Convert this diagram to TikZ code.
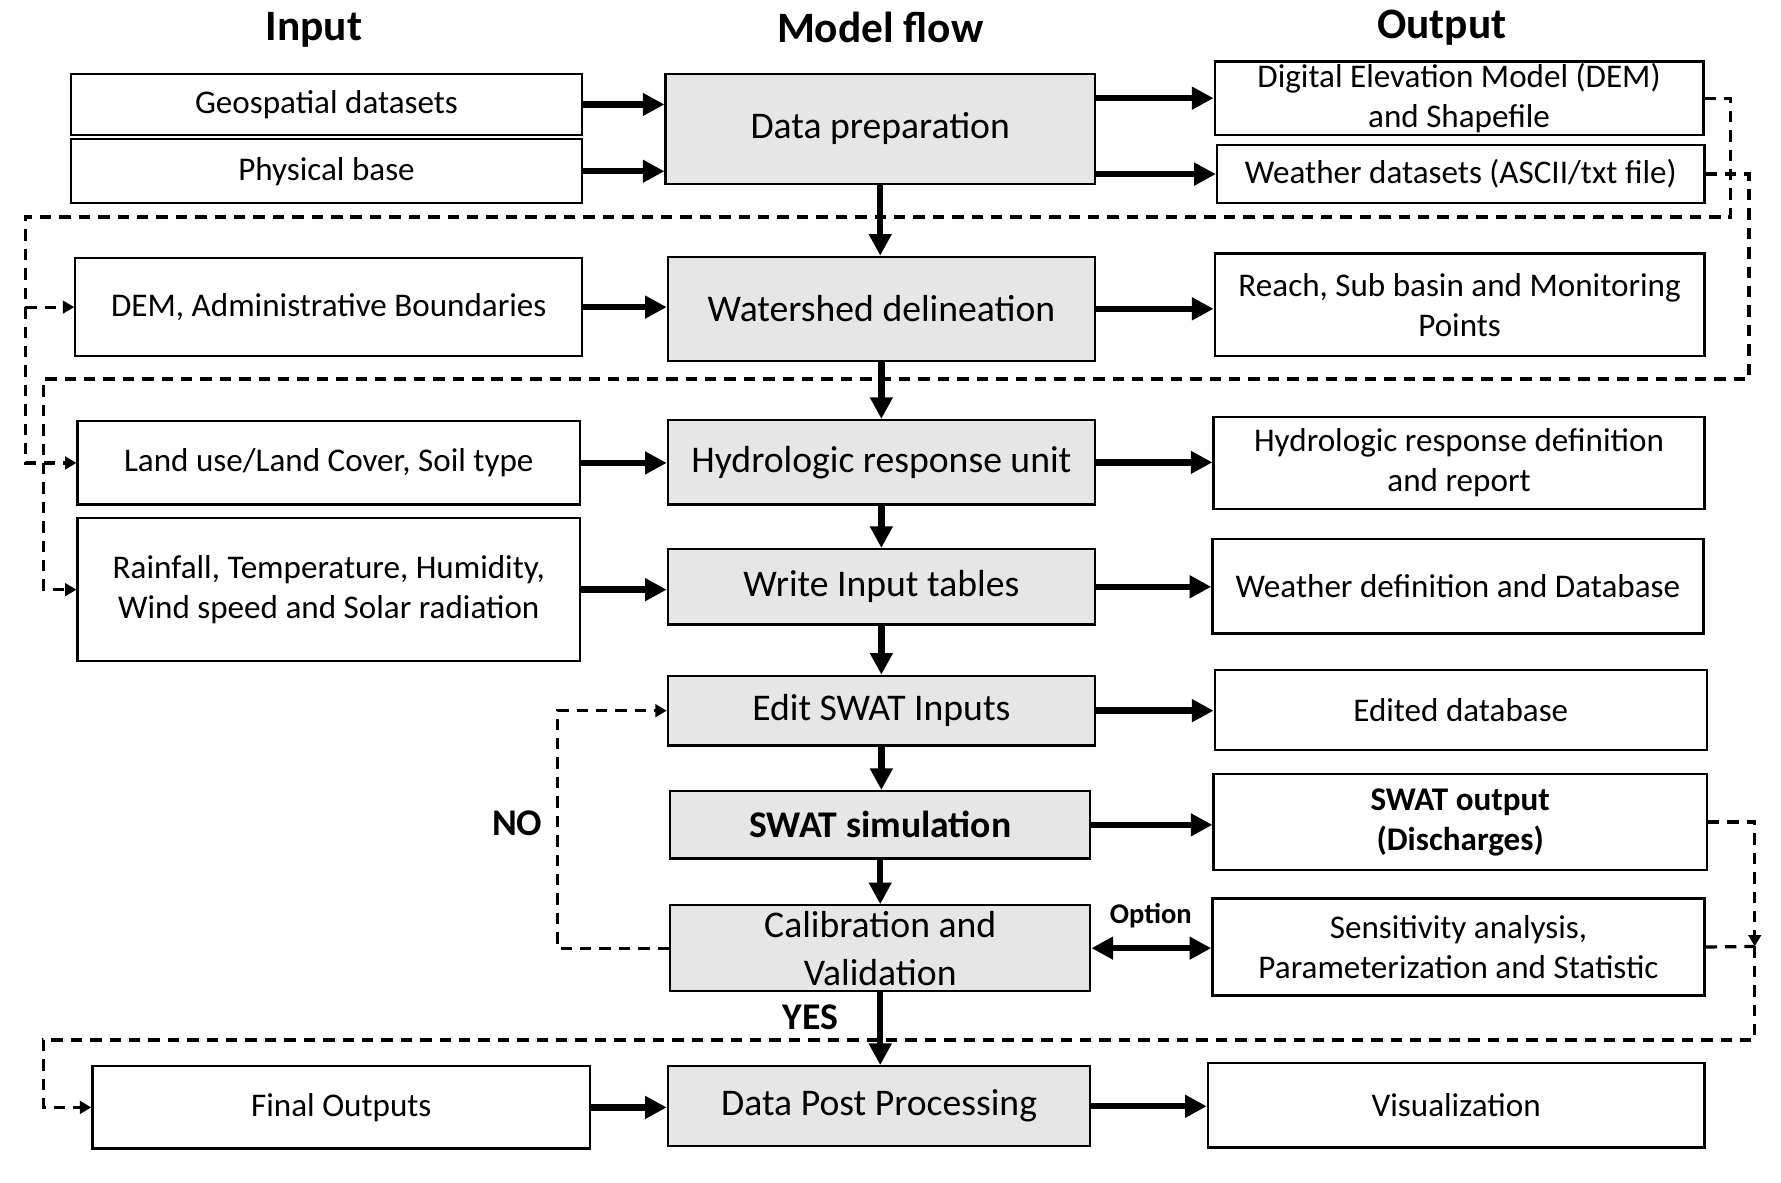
\documentclass[tikz,border=0pt]{standalone}
\usepackage{fontspec}
\setmainfont{Carlito}
\usetikzlibrary{arrows.meta}
\definecolor{midgray}{RGB}{230,230,230}
\begin{document}
\begin{tikzpicture}[x=0.5pt,y=-0.5pt,
  bx/.style={draw, line width=1pt, inner sep=0pt, align=center, font=\fontsize{14.5}{17.5}\selectfont},
  mb/.style={bx, fill=midgray, font=\fontsize{16.5}{21}\selectfont},
  hd/.style={font=\fontsize{19}{22}\selectfont\bfseries},
  lbl/.style={font=\fontsize{16.5}{20}\selectfont\bfseries},
  arr/.style={line width=2.8pt, -{Triangle[length=9.5pt,width=9.5pt]}},
  darr/.style={line width=2.8pt, {Triangle[length=9.5pt,width=9.5pt]}-{Triangle[length=9.5pt,width=9.5pt]}},
  dsh/.style={line width=1.4pt, dash pattern=on 5pt off 3.5pt},
  dar/.style={dsh, -{Triangle[length=5pt,width=5.5pt]}},
]
\useasboundingbox (0,0) rectangle (1560,1036);

% headers
\node[hd] (hin) at (275,26) {Input};
\node[hd] (hmf) at (771,24) {Model flow};
\node[hd] (hout) at (1263,24) {Output};

% input column
\node[bx, minimum width=224pt, minimum height=26.5pt] (in1) at (286,91.5) {Geospatial datasets};
\node[bx, minimum width=224pt, minimum height=28pt] (in2) at (286,150) {Physical base};
\node[bx, minimum width=222pt, minimum height=43pt] (in3) at (288,269) {DEM, Administrative Boundaries};
\node[bx, minimum width=220pt, minimum height=36.5pt] (in4) at (288,405.5) {Land use/Land Cover, Soil type};
\node[bx, minimum width=220pt, minimum height=62.5pt] (in5) at (288,516.5) {Rainfall, Temperature, Humidity,\\Wind speed and Solar radiation};
\node[bx, minimum width=218pt, minimum height=36pt] (in6) at (299,970) {Final Outputs};

% model flow column
\node[mb, minimum width=188pt, minimum height=48pt] (m1) at (771,113) {Data preparation};
\node[mb, minimum width=187pt, minimum height=45.5pt] (m2) at (772,270.5) {Watershed delineation};
\node[mb, minimum width=187pt, minimum height=37pt] (m3) at (772,405) {Hydrologic response unit};
\node[mb, minimum width=187pt, minimum height=33pt] (m4) at (772,514) {Write Input tables};
\node[mb, minimum width=187pt, minimum height=30.5pt] (m5) at (772,622.5) {Edit SWAT Inputs};
\node[mb, minimum width=184pt, minimum height=29.5pt, font=\fontsize{16.5}{21}\selectfont\bfseries] (m6) at (771,722.5) {SWAT simulation};
\node[mb, minimum width=184pt, minimum height=37.5pt] (m7) at (771,830.5) {Calibration and\\Validation};
\node[mb, minimum width=185pt, minimum height=35pt] (m8) at (770,969) {Data Post Processing};

% output column
\node[bx, minimum width=214pt, minimum height=32pt] (o1) at (1278,86) {Digital Elevation Model (DEM)\\and Shapefile};
\node[bx, minimum width=213.5pt, minimum height=25.5pt] (o2) at (1279.5,152.5) {Weather datasets (ASCII/txt file)};
\node[bx, minimum width=214.5pt, minimum height=45pt] (o3) at (1278.5,267) {Reach, Sub basin and Monitoring\\Points};
\node[bx, minimum width=215pt, minimum height=40.5pt] (o4) at (1278,405.5) {Hydrologic response definition\\and report};
\node[bx, minimum width=215pt, minimum height=41.5pt] (o5) at (1277,513.5) {Weather definition and Database};
\node[bx, minimum width=215.5pt, minimum height=35pt] (o6) at (1279.5,622) {Edited database};
\node[bx, minimum width=216pt, minimum height=42pt, font=\fontsize{14.5}{17.5}\selectfont\bfseries] (o7) at (1279,720) {SWAT output\\(Discharges)};
\node[bx, minimum width=215.5pt, minimum height=42.5pt] (o8) at (1277.5,829.5) {Sensitivity analysis,\\Parameterization and Statistic};
\node[bx, minimum width=217.5pt, minimum height=37pt] (o9) at (1275.5,968) {Visualization};

% labels
\node[lbl] (no) at (453,721) {NO};
\node[lbl] (yes) at (710,891) {YES};
\node[font=\fontsize{12.5}{15}\selectfont\bfseries] (opt) at (1008,802) {Option};

% input -> model arrows
\draw[arr] (in1.east) -- (in1.east -| m1.west);
\draw[arr] (in2.east) -- (in2.east -| m1.west);
\draw[arr] (in3.east) -- (in3.east -| m2.west);
\draw[arr] (in4.east) -- (in4.east -| m3.west);
\draw[arr] (in5.east) -- (in5.east -| m4.west);
\draw[arr] (in6.east) -- (in6.east -| m8.west);

% model -> output arrows
\draw[arr] (m1.east |- o1.west) -- (o1.west);
\draw[arr] (m1.east |- o2.west) -- (o2.west);
\draw[arr] (m2.east) -- (m2.east -| o3.west);
\draw[arr] (m3.east) -- (m3.east -| o4.west);
\draw[arr] (m4.east) -- (m4.east -| o5.west);
\draw[arr] (m5.east) -- (m5.east -| o6.west);
\draw[arr] (m6.east) -- (m6.east -| o7.west);
\draw[darr] (m7.east) -- (m7.east -| o8.west);
\draw[arr] (m8.east) -- (m8.east -| o9.west);

% vertical flow
\draw[arr] (m1.south) -- (m1.south |- m2.north);
\draw[arr] (m2.south) -- (m2.south |- m3.north);
\draw[arr] (m3.south) -- (m3.south |- m4.north);
\draw[arr] (m4.south) -- (m4.south |- m5.north);
\draw[arr] (m5.south) -- (m5.south |- m6.north);
\draw[arr] (m6.south) -- (m6.south |- m7.north);
\draw[arr] (m7.south) -- (m7.south |- m8.north);

% dashed feedback lines
\coordinate (p1) at (1516,190);
\coordinate (p2) at (22,190);
\draw[dar] (o1.east) -| (p1) -- (p2) |- (in4.west);
\draw[dar] (p2 |- in3.west) -- (in3.west);

\coordinate (q1) at (1532,332);
\coordinate (q2) at (38,332);
\draw[dar] (o2.east) -| (q1) -- (q2) |- (in5.west);

\coordinate (n1) at (488,830);
\draw[dar] (m7.west) -- (m7.west -| n1) |- (m5.west);

\coordinate (r1) at (1537,829);
\coordinate (r2) at (1537,911);
\coordinate (r3) at (38,911);
\draw[dar] (o7.east) -| (r1);
\draw[dsh] (o8.east) -- (r1);
\draw[dar] (r1) -- (r2) -- (r3) |- (in6.west);
\end{tikzpicture}
\end{document}
